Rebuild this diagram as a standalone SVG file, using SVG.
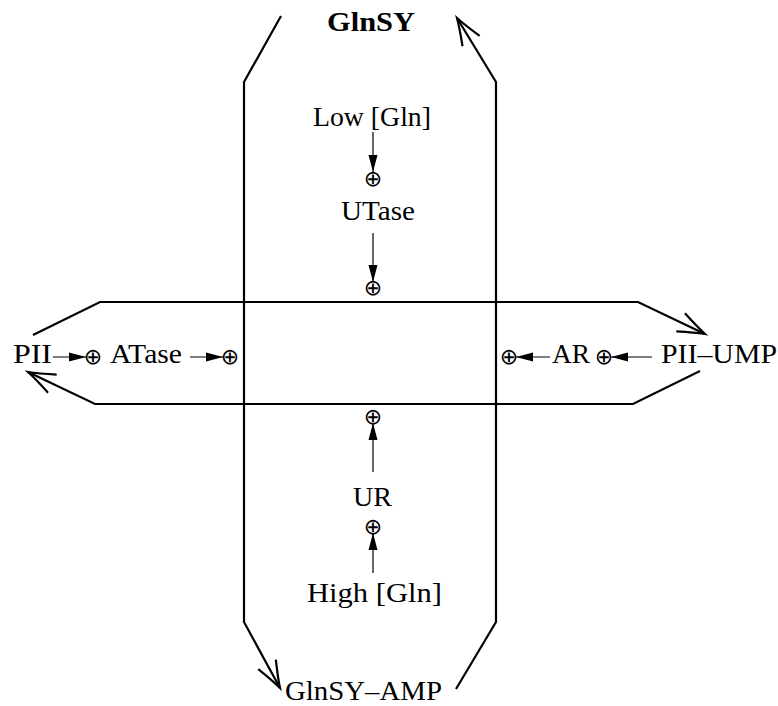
<svg xmlns="http://www.w3.org/2000/svg" width="778" height="706" viewBox="0 0 778 706">
<style>
.t{font-family:"Liberation Serif","Times New Roman",serif;font-size:28px;fill:#000}
.b{font-weight:bold}
.op{font-family:"DejaVu Sans",sans-serif;font-size:22px;text-anchor:middle;fill:#000}
.big{fill:none;stroke:#000;stroke-width:2.2;stroke-linejoin:miter;marker-end:url(#open)}
.sm{fill:none;stroke:#000;stroke-width:1.2;marker-end:url(#fill)}
</style>
<defs>
<marker id="open" markerUnits="userSpaceOnUse" viewBox="-30 -15 34 30" refX="0" refY="0" markerWidth="34" markerHeight="30" orient="auto" overflow="visible">
<path d="M-27,-10 Q-10,-3 0,0 Q-10,3 -27,10" fill="none" stroke="#000" stroke-width="2.2"/>
</marker>
<marker id="fill" markerUnits="userSpaceOnUse" viewBox="-20 -6 22 12" refX="0" refY="0" markerWidth="22" markerHeight="12" orient="auto" overflow="visible">
<path d="M0,0 L-17,-4.5 L-17,4.5 Z" fill="#000"/>
</marker>
</defs>
<g id="connectors">
<path class="big" d="M281,16 L244,82 L244,622 L280,688"/>
<path class="big" d="M456,689 L496,622 L496,82 L457,18"/>
<path class="big" d="M33,335 L100,302 L638,302 L705,334"/>
<path class="big" d="M700,371 L633,404 L95,404 L28,372"/>
<line class="sm" x1="373" y1="132" x2="373" y2="172"/>
<line class="sm" x1="373" y1="233" x2="373" y2="282"/>
<line class="sm" x1="373" y1="472" x2="373" y2="423"/>
<line class="sm" x1="373" y1="573" x2="373" y2="533"/>
<line class="sm" x1="53" y1="357" x2="86" y2="357"/>
<line class="sm" x1="190" y1="357" x2="223" y2="357"/>
<line class="sm" x1="550" y1="357" x2="516" y2="357"/>
<line class="sm" x1="652" y1="357" x2="611" y2="357"/>
</g>
<g id="GlnSY"><text class="t b" x="327" y="31" textLength="88" lengthAdjust="spacingAndGlyphs">GlnSY</text></g>
<g id="LowGln"><text class="t" x="313" y="126" textLength="118" lengthAdjust="spacingAndGlyphs">Low [Gln]</text></g>
<g id="plus1"><text class="op" x="373" y="186">⊕</text></g>
<g id="UTase"><text class="t" x="341" y="220" textLength="74" lengthAdjust="spacingAndGlyphs">UTase</text></g>
<g id="plus2"><text class="op" x="373" y="295">⊕</text></g>
<g id="plus3"><text class="op" x="373" y="424">⊕</text></g>
<g id="UR"><text class="t" x="353" y="506" textLength="39" lengthAdjust="spacingAndGlyphs">UR</text></g>
<g id="plus4"><text class="op" x="373" y="534">⊕</text></g>
<g id="HighGln"><text class="t" x="307" y="602" textLength="135" lengthAdjust="spacingAndGlyphs">High [Gln]</text></g>
<g id="GlnSY-AMP"><text class="t" x="285" y="700" textLength="157" lengthAdjust="spacingAndGlyphs">GlnSY–AMP</text></g>
<g id="PII"><text class="t" x="13" y="363" textLength="39" lengthAdjust="spacingAndGlyphs">PII</text></g>
<g id="plus5"><text class="op" x="93" y="364">⊕</text></g>
<g id="ATase"><text class="t" x="110" y="363" textLength="72" lengthAdjust="spacingAndGlyphs">ATase</text></g>
<g id="plus6"><text class="op" x="230" y="364">⊕</text></g>
<g id="plus7"><text class="op" x="509" y="364">⊕</text></g>
<g id="AR"><text class="t" x="552" y="363" textLength="38" lengthAdjust="spacingAndGlyphs">AR</text></g>
<g id="plus8"><text class="op" x="604" y="364">⊕</text></g>
<g id="PII-UMP"><text class="t" x="661" y="363" textLength="116" lengthAdjust="spacingAndGlyphs">PII–UMP</text></g>
</svg>
